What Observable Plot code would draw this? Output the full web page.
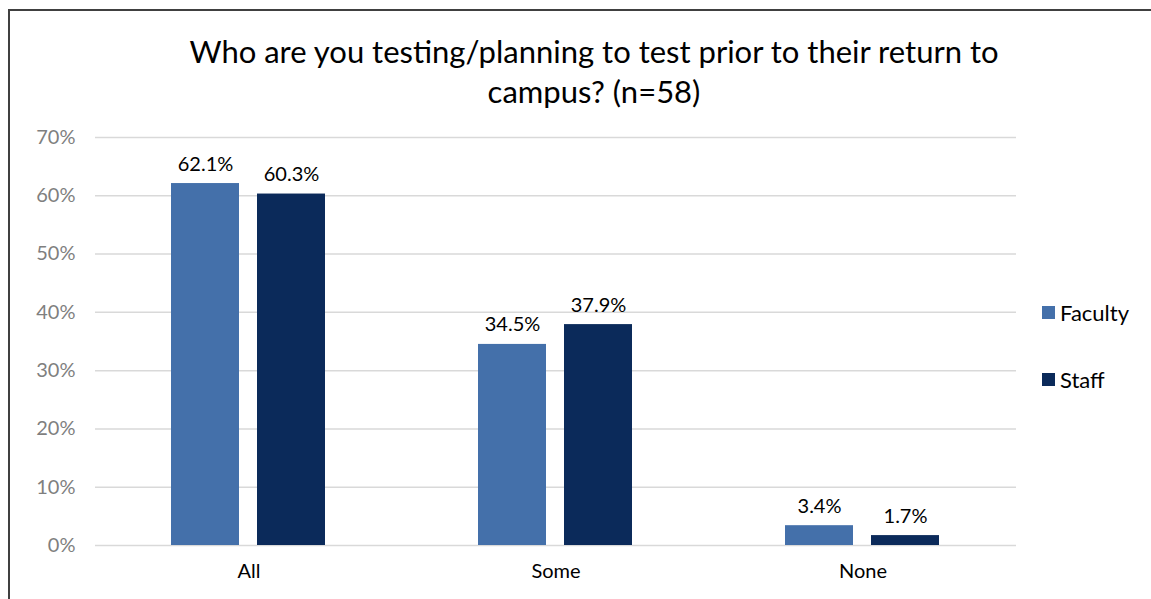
<!DOCTYPE html>
<html>
<head>
<meta charset="utf-8">
<script src="https://cdn.jsdelivr.net/npm/d3@7"></script>
<script src="https://cdn.jsdelivr.net/npm/@observablehq/plot@0.6"></script>
<style>
  html, body { margin: 0; padding: 0; background: #fff; overflow: hidden; }
  body { width: 1151px; height: 599px; position: relative; font-family: Lato, "Open Sans", sans-serif; }
  #frame { position: absolute; left: 8px; top: 9px; width: 1300px; height: 800px; border: 2px solid #404040; box-sizing: border-box; }
  #title { position: absolute; left: 0px; width: 1188px; top: 31px; text-align: center; font-size: 31px; line-height: 40px; color: #000; }
  #chart { position: absolute; left: 0; top: 120px; }
  .leg { position: absolute; left: 1042px; font-size: 22px; color: #000; display: flex; align-items: center; }
  .leg span.sw { display: inline-block; width: 13px; height: 13px; margin-right: 5px; }
</style>
</head>
<body>
<div id="frame"></div>
<div id="title">Who are you testing/planning to test prior to their return to<br>campus? (n=58)</div>
<div id="chart"></div>
<div class="leg" style="top:299px"><span class="sw" style="background:#4470aa"></span>Faculty</div>
<div class="leg" style="top:366px"><span class="sw" style="background:#0b2a5a"></span>Staff</div>
<script>
const categories = ["All", "Some", "None"];
const series = ["Faculty", "Staff"];
const faculty = [0.621, 0.345, 0.034];
const staff = [0.603, 0.379, 0.017];
const yTicks = [0, 0.1, 0.2, 0.3, 0.4, 0.5, 0.6, 0.7];
const colors = ["#4470aa", "#0b2a5a"];

const data = [];
categories.forEach((c, i) => {
  data.push({cat: c, s: "Faculty", v: faculty[i]});
  data.push({cat: c, s: "Staff", v: staff[i]});
});

const chart = Plot.plot({
  width: 1151,
  height: 479,
  marginLeft: 95,
  marginRight: 135,
  marginTop: 17,
  marginBottom: 54,
  style: {fontFamily: "Lato, 'Open Sans', sans-serif", background: "transparent"},
  fx: {domain: categories, padding: 0, label: null, axis: null},
  x: {domain: series, paddingInner: 0.207, paddingOuter: 0.868, axis: null},
  y: {domain: [0, 0.7], label: null},
  color: {domain: series, range: colors},
  marks: [
    Plot.ruleY(yTicks, {stroke: "#d9d9d9", strokeWidth: 1.5}),
    Plot.axisY({ticks: yTicks, tickFormat: d => Math.round(d * 100) + "%", tickSize: 0, tickPadding: 20, fontSize: 20, color: "#7f7f7f", label: null}),
    Plot.axisFx({anchor: "bottom", tickSize: 0, tickPadding: 18, fontSize: 20, color: "#000", label: null}),
    Plot.barY(data, {fx: "cat", x: "s", y: "v", fill: "s"}),
    Plot.text(data, {fx: "cat", x: "s", y: "v", text: d => (d.v * 100).toFixed(1) + "%", lineAnchor: "bottom", dy: -13, fontSize: 20, fill: "#000"})
  ]
});
document.getElementById("chart").appendChild(chart);
</script>
</body>
</html>
